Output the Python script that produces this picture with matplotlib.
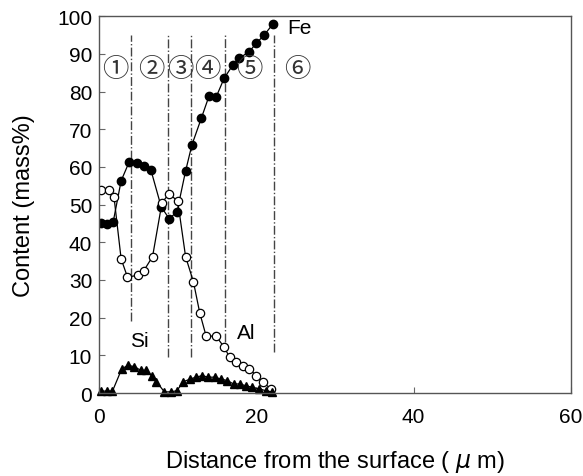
import matplotlib
matplotlib.use("Agg")
import matplotlib.pyplot as plt

# Fe (filled circles)
fe_x = [0.2, 1.0, 1.8, 2.8, 3.8, 4.8, 5.7, 6.6, 7.9, 8.9, 9.9, 11.0, 11.8,
        13.0, 14.0, 14.9, 15.9, 17.0, 17.8, 19.1, 20.0, 21.0, 22.1]
fe_y = [45.0, 44.8, 45.5, 56.3, 61.2, 61.0, 60.2, 59.1, 49.4, 46.3, 48.0, 58.9, 65.8,
        72.9, 78.9, 78.6, 83.5, 87.0, 88.8, 90.6, 92.8, 95.0, 97.9]

# Al (open circles)
al_x = [0.2, 1.2, 1.9, 2.8, 3.6, 4.9, 5.7, 6.8, 8.0, 8.9, 10.0, 11.0, 12.0,
        12.8, 13.6, 14.9, 15.9, 16.6, 17.4, 18.3, 19.1, 20.0, 20.8, 21.9]
al_y = [53.8, 53.8, 51.9, 35.6, 30.8, 31.2, 32.5, 36.2, 50.5, 52.9, 50.9, 36.2, 29.5,
        21.3, 15.2, 15.0, 12.2, 9.5, 8.2, 7.1, 6.4, 4.6, 2.8, 1.1]

# Si (filled triangles)
si_x = [0.2, 1.0, 1.7, 2.9, 3.7, 4.5, 5.3, 6.0, 6.7, 7.3, 8.3, 9.1, 9.9, 10.7,
        11.6, 12.3, 13.1, 13.9, 14.7, 15.5, 16.3, 17.1, 17.9, 18.7, 19.5, 20.4, 21.2, 22.0]
si_y = [0.5, 0.5, 0.5, 6.5, 7.3, 7.0, 6.0, 6.0, 4.5, 3.0, 0.3, 0.3, 0.6, 3.0,
        3.7, 4.2, 4.6, 4.2, 4.2, 3.7, 3.3, 2.4, 2.4, 1.9, 1.5, 1.1, 0.6, 0.3]

# layer boundaries (dash-dot) and layer numbers
bound_x = [4.0, 8.8, 11.7, 16.0, 22.2]
bound_bottom = [19, 9.5, 9.5, 13.5, 11]
layer_x = [2.0, 6.6, 10.3, 13.8, 19.1, 25.2]
layer_lbl = ["①", "②", "③", "④", "⑤", "⑥"]

plt.rcParams['font.family'] = ['Liberation Sans', 'DejaVu Sans']

fig = plt.figure(figsize=(5.83, 4.77), dpi=100)
ax = fig.add_axes([0.170, 0.174, 0.809, 0.790])

for bx, bb in zip(bound_x, bound_bottom):
    ax.plot([bx, bx], [bb, 95], color='#444444', lw=1.0, ls='-.')

ax.plot(fe_x, fe_y, color='black', lw=0.9, marker='o', ms=6,
        mfc='black', mec='black')
ax.plot(al_x, al_y, color='black', lw=0.9, marker='o', ms=6,
        mfc='white', mec='black', mew=0.9)
ax.plot(si_x, si_y, color='black', lw=0.9, marker='^', ms=6,
        mfc='black', mec='black', clip_on=False)

for lx, lt in zip(layer_x, layer_lbl):
    ax.text(lx, 86, lt, ha='center', va='center', fontsize=19, color='#333333',
            family=['Noto Sans CJK JP', 'DejaVu Sans'])

ax.text(25.5, 97, "Fe", ha='center', va='center', fontsize=15)
ax.text(5.1, 14, "Si", ha='center', va='center', fontsize=15)
ax.text(18.7, 16, "Al", ha='center', va='center', fontsize=15)

ax.set_xlim(0, 60)
ax.set_ylim(0, 100)
ax.set_xticks([0, 20, 40, 60])
ax.set_yticks(range(0, 101, 10))
ax.tick_params(direction='in', labelsize=15, length=4, color='#666666')
ax.tick_params(axis='x', pad=10)
ax.tick_params(axis='y', pad=5)
for s in ax.spines.values():
    s.set_color('#555555')
    s.set_linewidth(1.0)

ax.set_xlabel("Distance from the surface ( $\\mu$ m)", fontsize=17, labelpad=16)
ax.set_ylabel("Content (mass%)", fontsize=17, labelpad=16)

fig.savefig("out.png", dpi=100)
